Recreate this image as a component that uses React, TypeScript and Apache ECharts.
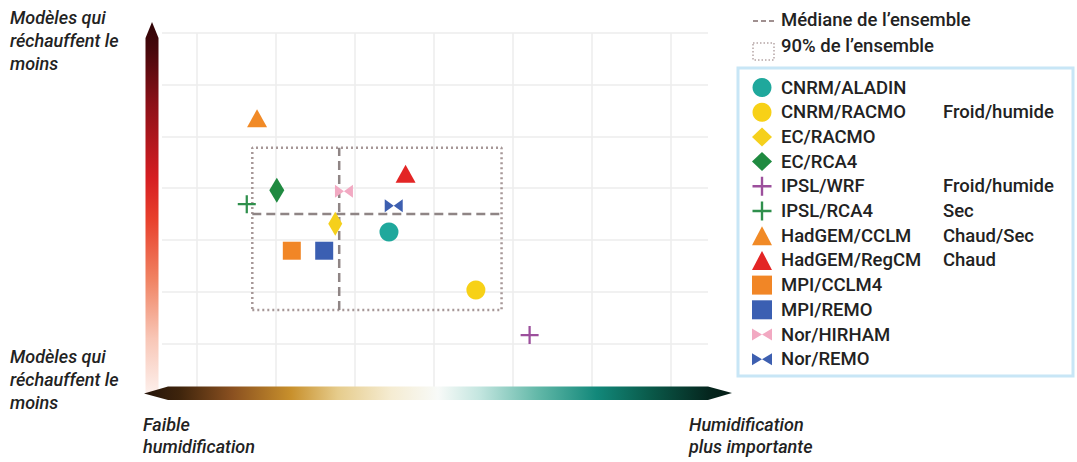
import React, { useEffect, useRef } from "react";
import * as echarts from "echarts";

// ---- Data (grid units: one cell = 1) ----
const models = [
  "CNRM/ALADIN",
  "CNRM/RACMO",
  "EC/RACMO",
  "EC/RCA4",
  "IPSL/WRF",
  "IPSL/RCA4",
  "HadGEM/CCLM",
  "HadGEM/RegCM",
  "MPI/CCLM4",
  "MPI/REMO",
  "Nor/HIRHAM",
  "Nor/REMO",
];
const humidification = [2.43, 3.53, 1.75, 1.01, 4.21, 0.63, 0.76, 2.64, 1.2, 1.61, 1.86, 2.49];
const warming = [2.15, 1.03, 2.31, 2.96, 0.16, 2.69, 4.35, 3.28, 1.79, 1.79, 2.94, 2.66];
const notes = ["", "Froid/humide", "", "", "Froid/humide", "Sec", "Chaud/Sec", "Chaud", "", "", "", ""];

const medianX = 1.8;
const medianY = 2.5;
const rangeX = [0.7, 3.855];
const rangeY = [0.644, 3.78];

const gridTicksX = [0, 1, 2, 3, 4, 5, 6];

// ---- Styles ----
const PLUS = "path://M7,0H9V7H16V9H9V16H7V9H0V7H7Z";
const BOWTIE = "path://M0,0L10,6L20,0V12L10,6L0,12Z";
const colors = [
  "#1fa89c",
  "#f7d117",
  "#f5d01c",
  "#1f8a40",
  "#9c4f9c",
  "#2f8f4c",
  "#f18a26",
  "#e32525",
  "#f18626",
  "#3b5fb2",
  "#f2a9c2",
  "#3d5fb0",
];
const symbols = ["circle", "circle", "diamond", "diamond", PLUS, PLUS, "triangle", "triangle", "rect", "rect", BOWTIE, BOWTIE];
const sizes: any[] = [19, 19, [14, 24], [15, 25], 18, 18, [20, 18], [20, 18], 18, 18, [18, 13], [18, 13]];

const FONT = "Roboto, 'Noto Sans', sans-serif";
const LEG = 18.5;
const CAP = 18;

export default function App() {
  const ref = useRef<HTMLDivElement>(null);

  useEffect(() => {
    document.body.style.margin = "0";
    if (!ref.current) return;
    const chart = echarts.init(ref.current, undefined, { renderer: "svg" });

    const scatterSeries = models.map((name, i) => ({
      name,
      type: "scatter",
      z: 5,
      symbol: symbols[i],
      symbolSize: sizes[i],
      itemStyle: { color: colors[i], opacity: 1 },
      data: [[humidification[i], warming[i]]],
    }));

    const capStyle = (text: string, lh: number) => ({
      text,
      fill: "#222",
      font: `italic 500 ${CAP}px ${FONT}`,
      lineHeight: lh,
    });

    const option: any = {
      animation: false,
      grid: { left: 162, top: 33, width: 546, height: 362 },
      xAxis: {
        type: "value",
        min: -0.443,
        max: 6.468,
        axisLine: { show: false },
        axisLabel: { show: false },
        axisTick: { show: false, customValues: gridTicksX },
        splitLine: { show: true, lineStyle: { color: "#ececec", width: 1.5 } },
      },
      yAxis: {
        type: "value",
        min: -1,
        max: 6,
        interval: 1,
        axisLine: { show: false },
        axisLabel: { show: false },
        axisTick: { show: false },
        splitLine: { show: true, showMinLine: false, lineStyle: { color: "#ececec", width: 1.5 } },
      },
      legend: {
        orient: "vertical",
        left: 752,
        top: 78,
        padding: 0,
        itemWidth: 20,
        itemHeight: 19,
        itemGap: 5.7,
        selectedMode: false,
        data: models,
        formatter: (name: string) => {
          const i = models.indexOf(name);
          return notes[i] ? `{n|${name}}{c|${notes[i]}}` : `{n|${name}}`;
        },
        textStyle: {
          color: "#222",
          fontFamily: FONT,
          fontSize: LEG,
          fontWeight: 500,
          lineHeight: 19,
          padding: [0, 0, 0, 4],
          rich: {
            n: { width: 162, color: "#222", fontFamily: FONT, fontSize: LEG, fontWeight: 500, lineHeight: 19 },
            c: { color: "#222", fontFamily: FONT, fontSize: LEG, fontWeight: 500, lineHeight: 19 },
          },
        },
      },
      series: [
        {
          name: "box",
          type: "line",
          z: 3,
          symbol: "none",
          silent: true,
          lineStyle: { color: "#a69797", width: 2.5, type: [2, 3] },
          data: [
            [rangeX[0], rangeY[0]],
            [rangeX[1], rangeY[0]],
            [rangeX[1], rangeY[1]],
            [rangeX[0], rangeY[1]],
            [rangeX[0], rangeY[0]],
          ],
        },
        {
          name: "medianV",
          type: "line",
          z: 4,
          symbol: "none",
          silent: true,
          lineStyle: { color: "#8f8585", width: 2.5, type: [9, 5] },
          data: [
            [medianX, rangeY[0]],
            [medianX, rangeY[1]],
          ],
        },
        {
          name: "medianH",
          type: "line",
          z: 4,
          symbol: "none",
          silent: true,
          lineStyle: { color: "#8f8585", width: 2.5, type: [9, 5] },
          data: [
            [rangeX[0], medianY],
            [rangeX[1], medianY],
          ],
        },
        ...scatterSeries,
      ],
      graphic: [
        // vertical arrow
        {
          type: "polygon",
          z: 1,
          shape: {
            points: [
              [152, 22],
              [158.5, 38],
              [158.5, 394],
              [145.5, 394],
              [145.5, 38],
            ],
          },
          style: {
            fill: new echarts.graphic.LinearGradient(0, 0, 0, 1, [
              { offset: 0, color: "#2e0406" },
              { offset: 0.08, color: "#4a080c" },
              { offset: 0.22, color: "#8c1018" },
              { offset: 0.42, color: "#d61e22" },
              { offset: 0.53, color: "#e8402c" },
              { offset: 0.69, color: "#f08262" },
              { offset: 0.85, color: "#f8c6b6" },
              { offset: 1, color: "#fdf0ec" },
            ]),
          },
        },
        // horizontal arrow
        {
          type: "polygon",
          z: 2,
          shape: {
            points: [
              [144, 393.5],
              [168, 386.5],
              [708, 386.5],
              [732, 393],
              [708, 400],
              [168, 400],
            ],
          },
          style: {
            fill: new echarts.graphic.LinearGradient(0, 0, 1, 0, [
              { offset: 0, color: "#24140a" },
              { offset: 0.06, color: "#3e240c" },
              { offset: 0.15, color: "#8a5020" },
              { offset: 0.25, color: "#c8902c" },
              { offset: 0.33, color: "#e6cc8c" },
              { offset: 0.42, color: "#f5ecd2" },
              { offset: 0.5, color: "#f8faf8" },
              { offset: 0.57, color: "#c4e6e0" },
              { offset: 0.67, color: "#62b8a8" },
              { offset: 0.77, color: "#12887a" },
              { offset: 0.86, color: "#0a5a4a" },
              { offset: 0.96, color: "#05261e" },
              { offset: 1, color: "#041c16" },
            ]),
          },
        },
        // legend box
        {
          type: "rect",
          z: 1,
          shape: { x: 738, y: 68, width: 335, height: 308 },
          style: { fill: "none", stroke: "#c8e6f6", lineWidth: 3 },
        },
        // median legend icon
        {
          type: "line",
          shape: { x1: 753, y1: 21, x2: 777, y2: 21 },
          style: { stroke: "#a09090", lineWidth: 2, lineDash: [5, 3] },
        },
        {
          type: "text",
          left: 781,
          top: 10,
          style: { text: "Médiane de l’ensemble", fill: "#222", font: `500 ${LEG}px ${FONT}` },
        },
        // 90% legend icon
        {
          type: "rect",
          shape: { x: 753, y: 43, width: 21, height: 17 },
          style: { fill: "none", stroke: "#b5a5a5", lineWidth: 1.5, lineDash: [1.5, 2] },
        },
        {
          type: "text",
          left: 781,
          top: 36,
          style: { text: "90% de l’ensemble", fill: "#222", font: `500 ${LEG}px ${FONT}` },
        },
        // axis captions
        { type: "text", left: 10, top: 6, style: capStyle("Modèles qui\nréchauffent le\nmoins", 23) },
        { type: "text", left: 10, top: 345, style: capStyle("Modèles qui\nréchauffent le\nmoins", 23) },
        { type: "text", left: 143, top: 413, style: capStyle("Faible\nhumidification", 22) },
        { type: "text", left: 689, top: 413, style: capStyle("Humidification\nplus importante", 22) },
      ],
    };

    chart.setOption(option);
    return () => chart.dispose();
  }, []);

  return <div ref={ref} style={{ width: 1077, height: 462 }} />;
}
